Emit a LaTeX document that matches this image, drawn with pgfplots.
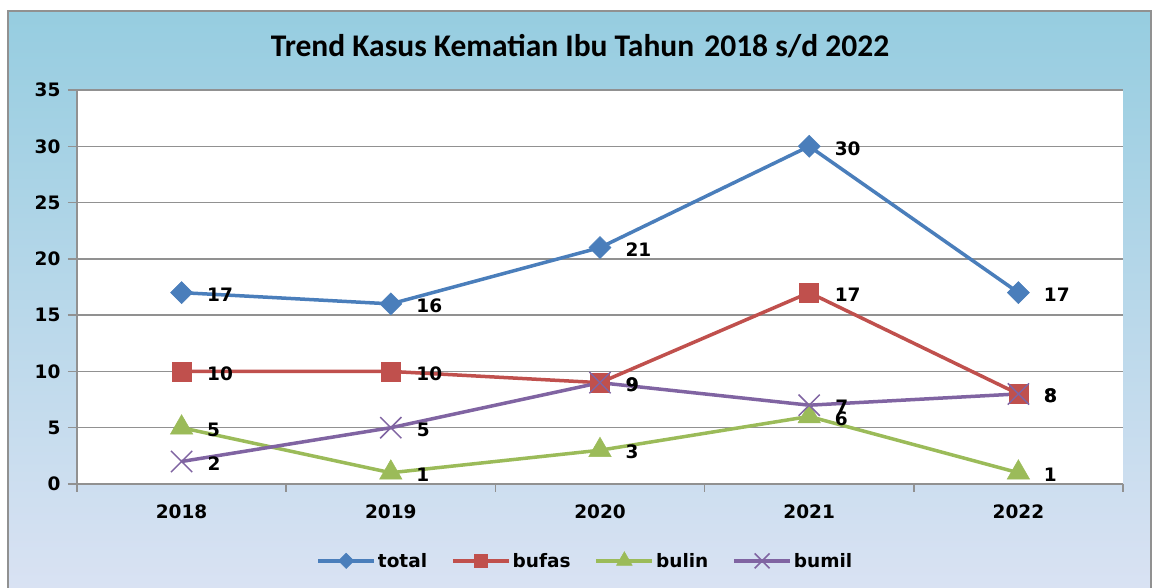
\documentclass[border=0pt]{standalone}
\usepackage{pgfplots}
\pgfplotsset{compat=1.18}
\usepackage{fontspec}
\setmainfont{DejaVu Sans}
\newfontfamily\titlefont{Carlito}
\definecolor{cTotal}{RGB}{74,126,187}
\definecolor{cBufas}{RGB}{192,80,77}
\definecolor{cBulin}{RGB}{155,187,89}
\definecolor{cBumil}{RGB}{128,100,162}
\definecolor{bgTop}{RGB}{150,205,224}
\definecolor{bgMid}{RGB}{190,208,236}
\definecolor{bgBot}{RGB}{217,226,243}
\definecolor{gridc}{RGB}{145,145,145}
\begin{document}
\begin{tikzpicture}
\path[use as bounding box] (0pt,0pt) rectangle (1152pt,588pt);
\fill[white] (0pt,0pt) rectangle (1152pt,588pt);
\shade[top color=bgTop, middle color=bgMid, bottom color=bgBot] (8pt,0pt) rectangle (1151pt,577pt);
\draw[gridc, line width=2pt] (8pt,0pt) -- (8pt,577pt) -- (1151pt,577pt) -- (1151pt,0pt);
\node[font=\titlefont\bfseries\fontsize{31.5}{34}\selectfont] at (580pt,542pt) {Trend Kasus Kematian Ibu Tahun\hspace{0.32em}2018 s/d 2022};
\begin{axis}[
  at={(77pt,104pt)}, anchor=south west, scale only axis,
  width=1046pt, height=394pt,
  xmin=-0.5, xmax=4.5, ymin=0, ymax=35,
  ytick={0,5,...,35},
  xtick={0,...,4},
  xticklabels={2018,2019,2020,2021,2022},
  minor xtick={-0.5,0.5,...,4.5},
  axis lines*=left,
  axis line style={gridc, line width=1.5pt},
  axis background/.style={fill=white},
  ymajorgrids,
  grid style={gridc, line width=1.3pt},
  tick align=outside,
  major tick length=9pt,
  minor tick length=8pt,
  major x tick style={draw=none},
  minor x tick style={gridc, line width=1.5pt},
  y tick style={gridc, line width=1.5pt},
  /pgf/number format/assume math mode=true,
  tick label style={font=\bfseries\fontsize{18.5}{20}\selectfont},
  xticklabel style={yshift=-8pt},
  yticklabel style={xshift=-4pt},
  nodes near coords,
  every node near coord/.append style={anchor=west, xshift=22pt, yshift=-2pt, text=black, font=\bfseries\fontsize{18.5}{20}\selectfont},
  legend columns=4,
  legend style={at={(0.486,-0.195)}, anchor=center, draw=none, fill=none,
    font=\bfseries\fontsize{18.5}{20}\selectfont,
    /tikz/every even column/.append style={column sep=22pt},
    nodes={inner sep=2pt}},
  legend image code/.code={\draw[mark repeat=2,mark phase=2,#1,every mark/.append style={scale=0.7}] plot coordinates {(0pt,0pt) (28pt,0pt) (56pt,0pt)};},
  clip=false,
]
\addplot[cTotal, line width=3.5pt, mark=square*, mark size=7.8pt, mark options={rotate=45, solid, fill=cTotal, draw=cTotal, line width=0.5pt}] coordinates {(0,17) (1,16) (2,21) (3,30) (4,17)};
\addlegendentry{total}
\addplot[cBufas, line width=3.5pt, mark=square*, mark size=9.5pt, mark options={solid, fill=cBufas, draw=cBufas, line width=0.5pt}] coordinates {(0,10) (1,10) (2,9) (3,17) (4,8)};
\addlegendentry{bufas}
\addplot[cBulin, line width=3.5pt, mark=triangle*, mark size=13pt, mark options={solid, fill=cBulin, draw=cBulin, line width=0.5pt}] coordinates {(0,5) (1,1) (2,3) (3,6) (4,1)};
\addlegendentry{bulin}
\addplot[cBumil, line width=3.5pt, mark=x, mark size=15pt, mark options={solid, draw=cBumil, line width=1.5pt}] coordinates {(0,2) (1,5) (2,9) (3,7) (4,8)};
\addlegendentry{bumil}
\end{axis}
\end{tikzpicture}
\end{document}
